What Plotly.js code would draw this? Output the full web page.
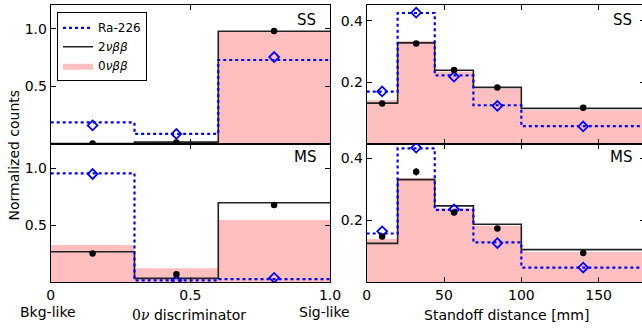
<!DOCTYPE html>
<html>
<head>
<meta charset="utf-8">
<script src="https://cdn.plot.ly/plotly-3.0.1.min.js"></script>
<style>
html,body{margin:0;padding:0;overflow:hidden;background:#fff;width:642px;height:331px;}
#chart{width:646px;height:331px;}
</style>
</head>
<body>
<div id="chart"></div>
<script>
// ---- data ----
const discEdges = [0, 0.3, 0.6, 1.0];
const discCenters = [0.15, 0.45, 0.8];
const standoffEdges = [0, 20, 44, 69, 100, 180];
const standoffCenters = [10, 32, 56.5, 84.5, 140];

// SS, discriminator
const ssDisc2nu = [0.004, 0.016, 0.978];
const ssDisc0nu = [0.005, 0.020, 0.975];
const ssDiscRa = [0.187, 0.087, 0.728];
const ssDiscData = [0.004, 0.012, 0.980];
const ssDiscDataErr = [0.004, 0.005, 0.008];
const ssDiscRaPts = [0.161, 0.087, 0.754];

// MS, discriminator
const msDisc2nu = [0.268, 0.035, 0.698];
const msDisc0nu = [0.328, 0.125, 0.547];
const msDiscRa = [0.956, 0.018, 0.028];
const msDiscData = [0.254, 0.072, 0.678];
const msDiscDataErr = [0.008, 0.005, 0.010];
const msDiscRaPts = [0.950, 0.018, 0.040];

// SS, standoff
const ssStand2nu = [0.133, 0.329, 0.240, 0.184, 0.116];
const ssStand0nu = [0.142, 0.335, 0.236, 0.180, 0.110];
const ssStandRa = [0.170, 0.426, 0.223, 0.126, 0.058];
const ssStandData = [0.132, 0.327, 0.241, 0.184, 0.118];
const ssStandDataErr = [0.004, 0.006, 0.005, 0.004, 0.004];
const ssStandRaPts = [0.171, 0.427, 0.219, 0.124, 0.057];

// MS, standoff
const msStand2nu = [0.126, 0.332, 0.247, 0.188, 0.106];
const msStand0nu = [0.140, 0.337, 0.239, 0.183, 0.098];
const msStandRa = [0.158, 0.433, 0.234, 0.129, 0.048];
const msStandData = [0.148, 0.357, 0.226, 0.174, 0.095];
const msStandDataErr = [0.008, 0.012, 0.007, 0.006, 0.005];
const msStandRaPts = [0.165, 0.435, 0.236, 0.127, 0.048];

const discTickVals = [0, 0.5, 1.0];
const discTickText = ['0', '0.5', '1.0'];
const standTickVals = [0, 50, 100, 150];
const standTickText = ['0', '50', '100', '150'];
const leftYTickVals = [0.5, 1.0];
const leftYTickText = ['0.5', '1.0'];
const rightYTickVals = [0.2, 0.4];
const rightYTickText = ['0.2', '0.4'];

// ---- styles ----
const PINK = '#ffbfbf';
const BLUE = '#0000ff';
const DARK = '#222222';
const FONT = 'DejaVu Sans, sans-serif';

function stepY(v){ return v.concat([v[v.length-1]]); }

const traces = [];
function panel(xa, ya, edges, centers, v0, v2, vRa, vData, vErr, vRaPts, legend){
  traces.push({x: edges, y: stepY(v0), xaxis: xa, yaxis: ya, type:'scatter', mode:'lines',
    line:{shape:'hv', width:0, color:PINK}, fill:'tozeroy', fillcolor:PINK,
    name:'0<i>νββ</i>', showlegend: legend, legendrank:3, hoverinfo:'skip'});
  traces.push({x: edges, y: stepY(v2), xaxis: xa, yaxis: ya, type:'scatter', mode:'lines',
    line:{shape:'hv', width:1.6, color:DARK},
    name:'2<i>νββ</i>', showlegend: legend, legendrank:2});
  traces.push({x: edges, y: stepY(vRa), xaxis: xa, yaxis: ya, type:'scatter', mode:'lines',
    line:{shape:'hv', width:2.2, color:BLUE, dash:'dot'},
    name:'Ra-226', showlegend: legend, legendrank:1});
  traces.push({x: centers, y: vRaPts, xaxis: xa, yaxis: ya, type:'scatter', mode:'markers',
    marker:{symbol:'diamond-open', size:7.5, color:BLUE, line:{width:1.8, color:BLUE}},
    showlegend:false});
  traces.push({x: centers, y: vData, xaxis: xa, yaxis: ya, type:'scatter', mode:'markers',
    marker:{symbol:'circle', size:6.5, color:'#000'},
    error_y:{type:'data', array:vErr, visible:true, color:'#000', thickness:1.5, width:0},
    showlegend:false});
}
panel('x', 'y', discEdges, discCenters, ssDisc0nu, ssDisc2nu, ssDiscRa, ssDiscData, ssDiscDataErr, ssDiscRaPts, true);
panel('x2', 'y2', standoffEdges, standoffCenters, ssStand0nu, ssStand2nu, ssStandRa, ssStandData, ssStandDataErr, ssStandRaPts, false);
panel('x3', 'y3', discEdges, discCenters, msDisc0nu, msDisc2nu, msDiscRa, msDiscData, msDiscDataErr, msDiscRaPts, false);
panel('x4', 'y4', standoffEdges, standoffCenters, msStand0nu, msStand2nu, msStandRa, msStandData, msStandDataErr, msStandRaPts, false);

const W = 646, H = 331;
const px = x => x / W;
const py = y => 1 - y / H;

const xL = [px(50.7), px(330)];
const xR = [px(366.7), 0.9985];
const yTop = [py(144), py(5)];
const yBot = [py(282.4), py(144)];

function axis(extra){
  return Object.assign({
    showline:true, linecolor:'#000', linewidth:1, mirror:'ticks',
    ticks:'inside', ticklen:5, tickwidth:1, tickcolor:'#000',
    showgrid:false, zeroline:false, fixedrange:true,
    tickfont:{family:FONT, size:14, color:'#000'}, tickmode:'array'
  }, extra);
}

const layout = {
  width: W, height: H,
  margin:{l:0, r:0, t:0, b:0},
  paper_bgcolor:'#fff', plot_bgcolor:'#fff',
  font:{family:FONT, color:'#000'},
  showlegend:true,
  legend:{x:px(57), y:py(12.3), xanchor:'left', yanchor:'top',
    bgcolor:'#fff', bordercolor:'#000', borderwidth:1,
    font:{family:FONT, size:12, color:'#000'}, tracegroupgap:0, itemwidth:30},
  xaxis: axis({domain:xL, range:[0,1], anchor:'y', tickvals:discTickVals, ticktext:discTickText, showticklabels:false}),
  yaxis: axis({domain:yTop, range:[0,1.205], anchor:'x', tickvals:leftYTickVals, ticktext:leftYTickText}),
  xaxis2: axis({domain:xR, range:[0,180], anchor:'y2', tickvals:standTickVals, ticktext:standTickText, showticklabels:false}),
  yaxis2: axis({domain:yTop, range:[0,0.452], anchor:'x2', tickvals:rightYTickVals, ticktext:rightYTickText}),
  xaxis3: axis({domain:xL, range:[0,1], anchor:'y3', tickvals:discTickVals, ticktext:discTickText}),
  yaxis3: axis({domain:yBot, range:[0,1.213], anchor:'x3', tickvals:leftYTickVals, ticktext:leftYTickText}),
  xaxis4: axis({domain:xR, range:[0,180], anchor:'y4', tickvals:standTickVals, ticktext:standTickText}),
  yaxis4: axis({domain:yBot, range:[0,0.447], anchor:'x4', tickvals:rightYTickVals, ticktext:rightYTickText}),
  annotations:[
    {text:'SS', x:px(318), y:py(20), xref:'paper', yref:'paper', xanchor:'right', yanchor:'middle', showarrow:false, font:{family:FONT, size:15}},
    {text:'MS', x:px(318), y:py(157), xref:'paper', yref:'paper', xanchor:'right', yanchor:'middle', showarrow:false, font:{family:FONT, size:15}},
    {text:'SS', x:px(634), y:py(20), xref:'paper', yref:'paper', xanchor:'right', yanchor:'middle', showarrow:false, font:{family:FONT, size:15}},
    {text:'MS', x:px(634), y:py(157), xref:'paper', yref:'paper', xanchor:'right', yanchor:'middle', showarrow:false, font:{family:FONT, size:15}},
    {text:'Normalized counts', x:px(13), y:py(155.5), xref:'paper', yref:'paper', xanchor:'center', yanchor:'middle', textangle:-90, showarrow:false, font:{family:FONT, size:14}},
    {text:'Bkg-like', x:px(47.5), y:py(311.7), xref:'paper', yref:'paper', xanchor:'center', yanchor:'middle', showarrow:false, font:{family:FONT, size:14}},
    {text:'Sig-like', x:px(324.5), y:py(311.7), xref:'paper', yref:'paper', xanchor:'center', yanchor:'middle', showarrow:false, font:{family:FONT, size:14}},
    {text:'<span style="font-family:DejaVu Serif">0<i>ν</i></span> discriminator', x:px(189), y:py(315), xref:'paper', yref:'paper', xanchor:'center', yanchor:'middle', showarrow:false, font:{family:FONT, size:14}},
    {text:'Standoff distance [mm]', x:px(506), y:py(315), xref:'paper', yref:'paper', xanchor:'center', yanchor:'middle', showarrow:false, font:{family:FONT, size:14}}
  ]
};

Plotly.newPlot('chart', traces, layout, {staticPlot:true, displayModeBar:false});
</script>
</body>
</html>
